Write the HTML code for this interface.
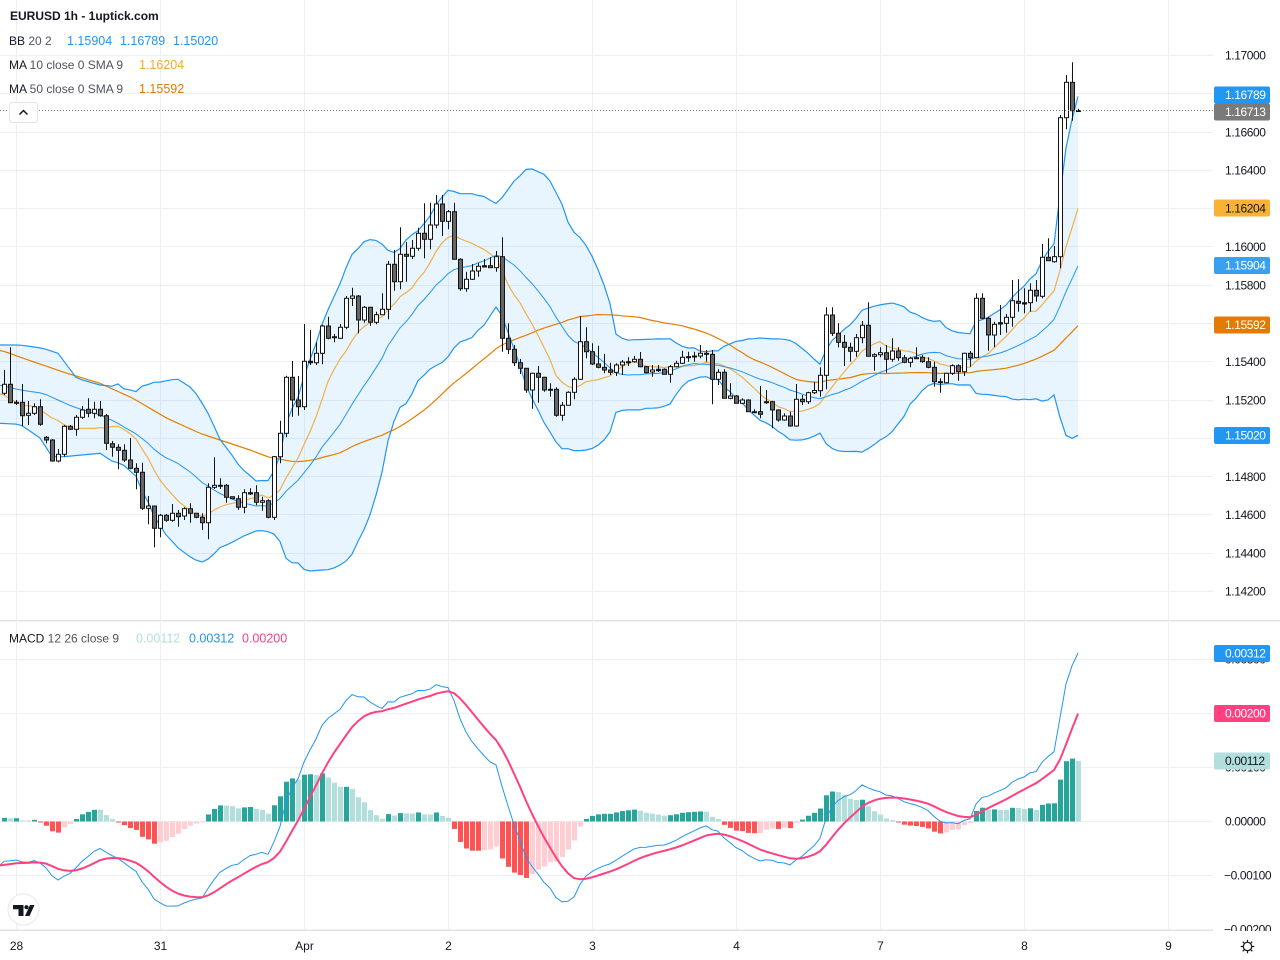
<!DOCTYPE html>
<html><head><meta charset="utf-8">
<style>
html,body{margin:0;padding:0;background:#fff;width:1280px;height:960px;overflow:hidden;}
svg{display:block;font-family:"Liberation Sans",sans-serif;}
</style></head><body>
<svg id="c" width="1280" height="960" viewBox="0 0 1280 960" xmlns="http://www.w3.org/2000/svg">
<defs>
<clipPath id="cm"><rect x="0" y="0" width="1213" height="620"/></clipPath>
<clipPath id="cd"><rect x="0" y="622" width="1213" height="308"/></clipPath>
<clipPath id="ca"><rect x="1213" y="622" width="67" height="309"/></clipPath>
</defs>
<rect width="1280" height="960" fill="#fff"/>
<g stroke="#eceff4" stroke-width="1">
<path d="M0 55.5H1213M0 93.5H1213M0 132.5H1213M0 170.5H1213M0 208.5H1213M0 246.5H1213M0 285.5H1213M0 323.5H1213M0 361.5H1213M0 400.5H1213M0 438.5H1213M0 476.5H1213M0 514.5H1213M0 553.5H1213M0 591.5H1213"/>
<path d="M0 659.5H1213M0 713.5H1213M0 767.5H1213M0 821.5H1213M0 875.5H1213M0 929.5H1213"/>
<path d="M16.5 0V620M160.5 0V620M304.5 0V620M448.5 0V620M592.5 0V620M736.5 0V620M880.5 0V620M1024.5 0V620M1168.5 0V620"/>
<path d="M16.5 622V930M160.5 622V930M304.5 622V930M448.5 622V930M592.5 622V930M736.5 622V930M880.5 622V930M1024.5 622V930M1168.5 622V930"/>
</g>
<rect x="0" y="620" width="1280" height="1.5" fill="#e0e3eb"/>
<rect x="0" y="930" width="1213" height="1" fill="#e0e3eb"/>
<g id="main" clip-path="url(#cm)"></g>
<g id="macd" clip-path="url(#cd)"></g>
<line x1="0" y1="110.5" x2="1213" y2="110.5" stroke="#7a7a7a" stroke-width="1" stroke-dasharray="1 2"/>

<text x="10" y="20" font-size="12" font-weight="bold" fill="#131722">EURUSD 1h - 1uptick.com</text>
<text x="9" y="45" font-size="12"><tspan fill="#131722">BB</tspan><tspan fill="#50535e"> 20 2</tspan></text>
<text x="67" y="45" font-size="12.5" fill="#2196f3">1.15904</text>
<text x="120" y="45" font-size="12.5" fill="#2196f3">1.16789</text>
<text x="173" y="45" font-size="12.5" fill="#2196f3">1.15020</text>
<text x="9" y="69" font-size="12"><tspan fill="#131722">MA</tspan><tspan fill="#50535e"> 10 close 0 SMA 9</tspan></text>
<text x="139" y="69" font-size="12.5" fill="#f0a92e">1.16204</text>
<text x="9" y="93" font-size="12"><tspan fill="#131722">MA</tspan><tspan fill="#50535e"> 50 close 0 SMA 9</tspan></text>
<text x="139" y="93" font-size="12.5" fill="#e07800">1.15592</text>
<rect x="9.5" y="102.5" width="28" height="20" rx="3" fill="#fff" stroke="#e0e3eb"/>
<path d="M19.5 114.5L23.5 110.5L27.5 114.5" stroke="#131722" stroke-width="1.5" fill="none"/>
<text x="9" y="642.5" font-size="12"><tspan fill="#131722">MACD</tspan><tspan fill="#50535e"> 12 26 close 9</tspan></text>
<text x="136" y="642.5" font-size="12.5" fill="#b2dfdb">0.00112</text>
<text x="189" y="642.5" font-size="12.5" fill="#2196f3">0.00312</text>
<text x="242" y="642.5" font-size="12.5" fill="#ff4081">0.00200</text>

<g font-size="12" fill="#131722" letter-spacing="-0.4">
<text x="1225" y="59.5">1.17000</text>
<text x="1225" y="136.5">1.16600</text>
<text x="1225" y="174.5">1.16400</text>
<text x="1225" y="251">1.16000</text>
<text x="1225" y="289.5">1.15800</text>
<text x="1225" y="366">1.15400</text>
<text x="1225" y="404.5">1.15200</text>
<text x="1225" y="481">1.14800</text>
<text x="1225" y="519">1.14600</text>
<text x="1225" y="557.5">1.14400</text>
<text x="1225" y="595.5">1.14200</text>
</g>
<g font-size="12" letter-spacing="-0.4">
<rect x="1214" y="86.5" width="56" height="17" rx="2" fill="#2196f3"/>
<text x="1225" y="99" fill="#fff">1.16789</text>
<rect x="1214" y="103.5" width="56" height="17" rx="2" fill="#7a7a7a"/>
<text x="1225" y="116" fill="#fff">1.16713</text>
<rect x="1214" y="199.5" width="56" height="17" rx="2" fill="#f9b233"/>
<text x="1225" y="212.5" fill="#131722">1.16204</text>
<rect x="1214" y="257" width="56" height="17" rx="2" fill="#3aa0ee"/>
<text x="1225" y="269.5" fill="#fff">1.15904</text>
<rect x="1214" y="316.5" width="56" height="17" rx="2" fill="#e47b00"/>
<text x="1225" y="329" fill="#fff">1.15592</text>
<rect x="1214" y="427" width="56" height="17" rx="2" fill="#2196f3"/>
<text x="1225" y="439.5" fill="#fff">1.15020</text>
</g>
<g font-size="12" fill="#131722" letter-spacing="-0.4" clip-path="url(#ca)">
<text x="1225" y="663.5">0.00300</text>
<text x="1225" y="771.5">0.00100</text>
<text x="1225" y="825.5">0.00000</text>
<text x="1224" y="879.5">−0.00100</text>
<text x="1224" y="933.5">−0.00200</text>
<rect x="1214" y="645" width="56" height="17" rx="2" fill="#2196f3"/>
<text x="1225" y="657.5" fill="#fff">0.00312</text>
<rect x="1214" y="705" width="56" height="17" rx="2" fill="#ff4081"/>
<text x="1225" y="717.5" fill="#fff">0.00200</text>
<rect x="1214" y="752.5" width="56" height="17" rx="2" fill="#b2dfdb"/>
<text x="1225" y="765" fill="#131722">0.00112</text>
</g>
<g font-size="12" fill="#131722" text-anchor="middle">
<text x="16.5" y="950">28</text>
<text x="160.5" y="950">31</text>
<text x="304.5" y="950">Apr</text>
<text x="448.5" y="950">2</text>
<text x="592.5" y="950">3</text>
<text x="736.5" y="950">4</text>
<text x="880.5" y="950">7</text>
<text x="1024.5" y="950">8</text>
<text x="1168.5" y="950">9</text>
</g>
<g transform="translate(1247.5,946.5)" stroke="#131722" stroke-width="1.2" fill="none">
<circle r="4.2"/>
<path d="M0 -4.2V-6.8M0 4.2V6.8M-4.2 0H-6.8M4.2 0H6.8M3 3L4.8 4.8M-3 -3L-4.8 -4.8M3 -3L4.8 -4.8M-3 3L-4.8 4.8"/>
</g>
<circle cx="23.5" cy="909.5" r="15.5" fill="#fff" stroke="#e6e8ec" stroke-width="1"/>
<path d="M13 905H23.5V916H18.5V909.3H13Z" fill="#131722"/>
<circle cx="26.5" cy="907.2" r="2.1" fill="#131722"/>
<path d="M30 905H34.5L29.5 916H25Z" fill="#131722"/>
</svg>
<script>
var D=[[393.3,370,395,384.3],[384.3,347.3,403.3,402.7],[402.3,400,405,402.5],[402.3,384,426,415.7],[415.3,401,425,413.3],[413.3,403.3,415,406.7],[406.7,399.3,425.7,424.3],[437.3,436,443.3,440],[440,439,461.7,461],[461,449,462.3,454.3],
[454.3,425,456.7,426.3],[426.3,425,430,429.3],[429.3,415,435.7,417.3],[417.3,406,418.7,410],[409.3,398.3,417.3,413.3],[413.3,401.7,418.3,409.3],[409.3,401,416.7,415.7],[415.7,414,450,443.3],[443.7,441,456.7,447.3],[447.3,444.3,469.3,450.3],
[450.3,444.3,462,460],[460,438,469.3,468.3],[468.3,463.3,489.3,472.3],[472.3,462.7,510,508.3],[508.3,496,524.3,506],[506,506,547.3,528.3],[528.3,514,537.3,515.3],[515.3,514,521.7,520.3],[520.3,504,521.7,513.3],[513.3,510,526.7,516.7],
[516,507.3,520,508.7],[508.7,503.3,522.7,513.3],[513.3,512.7,518.3,517.3],[517.3,513.3,530,522.7],[522.7,483.3,539.3,487.3],[487.3,457.3,489,485.3],[485.3,478.3,489,485.5],[485.3,484,502.7,497.3],[496.7,496.7,499.3,498.7],[498.7,495.3,510,507.3],
[507.3,489.3,513.3,492.7],[494,488.3,495,492.7],[492.7,485.3,505.3,502.3],[502.3,496.7,510.7,500.7],[500.7,499.3,518.3,517.3],[517.3,456,520,456.7],[456.7,420.7,463.3,433.3],[433.3,375.7,437.3,377.3],[377.3,361,416.7,400],[400,376,415.7,406.7],
[406.7,324,410,361.3],[361.3,330,365,362.7],[362.7,342.3,365,353.3],[353.3,324.7,364.3,326],[326,316.7,339.3,338.3],[336.7,334,342.3,336.7],[338.3,324,339,327.3],[327.3,296,329.3,298.3],[298.3,287.7,306,296],[296,295,333.3,320],
[320,306,322.7,307.3],[307.3,306.7,325.7,322.3],[322.3,311.7,324.3,314.7],[314.7,293.3,314.7,309.3],[309.3,261,319.3,264.3],[264.3,250,290.7,281.7],[281.7,227.3,289.3,254.3],[254.3,242,281.7,256.3],[256.3,240,259,248.3],[248.3,227.7,250.7,233.3],
[233.3,203.3,258.3,239.3],[239.3,202.7,249.3,225],[225,195,228.3,204],[204,195,236,221.3],[221.3,210,229.3,211.7],[211.7,202.7,259.3,259.3],[259.3,258.3,290.7,288.7],[288.7,271.7,291.7,279.3],[279.3,264,280,271],[271,263.3,276.7,266.3],
[265.7,259,267,267],[265.7,257.3,267.7,267.7],[267.7,251,271.7,256.7],[256.7,237.3,351.7,338.3],[338.3,323.3,354,349.3],[349.3,345,366,362.7],[362.7,359,374,368.3],[368.3,368.3,392.7,390],[390,372.7,408.7,373.3],[373.3,366,402.7,377.3],
[377.3,376.7,391.7,390],[389.3,383.3,396.7,390.3],[389.3,387.3,416.7,415.3],[415.3,402,420.7,405.3],[405.3,391.3,405.3,392.3],[392.3,377.3,399.3,379.3],[379.3,316,380,341.7],[341.7,327.3,358.3,351.7],[351.7,343.3,365,364],[364,345.7,368.3,367.3],
[367.3,354,373.3,370],[370,362.7,375,372.3],[372.3,363.3,376,365],[365,360,375,362],[361.7,357.3,366,361.7],[361.7,356,362.7,359.3],[359.3,352,367.3,366.7],[366.7,366,373.3,372.7],[372,365,376.7,370],[369.3,365,372,370.7],
[369.3,368.3,374.3,374.3],[374.3,365,382.7,366.7],[366.7,360.7,367.3,363.3],[363.3,350.7,364,357.3],[356.7,351.7,361.7,357.7],[356,351.7,361.7,356],[356,345,358.3,353.3],[353.3,350,361.7,354.3],[354.3,350,404.3,379.3],[379.3,369.3,385,372.3],
[372.3,369.3,398.3,398.3],[398.3,383.3,399.3,396],[396,395,403.3,403.3],[403.3,398.3,404,400],[400,399.3,411.7,411.7],[411.7,409.3,412.7,411.7],[411.7,386,418.3,414.3],[401.7,390,404,401.7],[401.7,400.7,428.3,410],[410,409.3,421.7,420],
[420,413.3,420.7,416],[416,411.7,426.7,426],[426,384,426.7,399.3],[399.3,395,405,401.7],[401.7,391.7,404,392.7],[392.7,381.7,394,390.5],[390.7,367.3,396.7,375.3],[375.3,307.3,389.3,315],[315,307.3,336,333.3],[333.3,323.3,347.3,342.3],
[342.3,335,366,347.3],[347.3,342.7,361.7,351.3],[351.3,334,356.7,337.7],[337.7,321,343.3,325.3],[325.3,302.3,356.3,356.3],[356.3,353.3,370.7,354.7],[354.7,347.3,357.3,352.7],[352.7,345,372.7,359.3],[359.3,338.3,361.7,351],[351,347.3,360.7,357.7],
[357.7,355,363.3,362.3],[362.3,356.7,367.3,358.3],[357.7,347.3,358.7,357.7],[357.3,355,362.7,361.7],[361.7,357.3,368.3,367.3],[367.3,361.7,386.7,381.7],[381.7,378.3,392.7,381.7],[382.7,372.7,383.3,373.3],[373.3,364.3,375,365.7],[365.7,364.3,380.7,371.7],
[371.7,352.7,376,353.3],[353.3,351,366.7,357.7],[357.7,293.3,358.3,298.3],[298.3,293.3,319.3,318.3],[318.3,316.7,350.7,335],[335,321.7,347.3,324.3],[324,305,335,322.7],[323.3,314,332.7,317.3],[317.3,280,326.7,300.7],[301.3,279.3,311.7,303.3],
[302.7,288.3,313.3,304],[302.7,283.3,311.7,290.3],[290.3,280,301.7,296],[296.3,244,298.3,257.3],[257.3,238.3,260.7,260.7],[261.7,246,262.7,256.7],[256.7,115,268.3,117.7],[117.7,75,129.3,82.3],[82.3,62.3,120.7,110.7],[110.7,108.7,111.7,110.5]];
(function(){
var NS="http://www.w3.org/2000/svg";
var N=D.length;
function X(i){return 4+6*i;}
function f(v){return Math.round(v*10)/10;}
function interp(p,x){if(x<=p[0][0])return p[0][1];for(var j=1;j<p.length;j++){if(x<=p[j][0]){var a=p[j-1],b=p[j];return a[1]+(b[1]-a[1])*(x-a[0])/(b[0]-a[0]);}}return p[p.length-1][1];}
function el(parent,tag,attrs){var e=document.createElementNS(NS,tag);for(var k in attrs)e.setAttribute(k,attrs[k]);parent.appendChild(e);return e;}
var C=D.map(function(d){return d[3];});
var upT=[[0,345],[20,345],[43,348.3],[58,353.3],[76.7,378.3],[100,385],[116.7,386.7]];
var midT=[[0,385],[20,390],[43,393.3],[73,406.7],[100,415],[118,423]];
var loT=[[0,423.3],[20,424.3],[43,440],[50,456.7],[63.3,456.7],[100,453.3],[118,465]];
var m10T=[[0,393.3],[7,396.7],[20,405],[33,406],[43,411.7],[52,418]];
var m50T=[[0,350],[33,361.7],[67,373.3],[100,383.3],[133,398.3],[167,418.3],[200,433.3],[220,440],[250,450],[270,457.5],[292,461.3]];
var xs=[],up=[],mid=[],lo=[],a10=[],a50=[];
for(var i=-1;i<N;i++){
 var x=X(i);xs.push(x);
 if(i>=19){var s=0,k;for(k=i-19;k<=i;k++)s+=C[k];var mm=s/20,v=0;for(k=i-19;k<=i;k++)v+=(C[k]-mm)*(C[k]-mm);var sd=Math.sqrt(v/20);mid.push(mm);up.push(mm-2*sd);lo.push(mm+2*sd);}
 else{up.push(interp(upT,x));mid.push(interp(midT,x));lo.push(interp(loT,x));}
 if(i>=9){var s2=0;for(var k2=i-9;k2<=i;k2++)s2+=C[k2];a10.push(s2/10);}else a10.push(interp(m10T,x));
 if(i>=49){var s3=0;for(var k3=i-49;k3<=i;k3++)s3+=C[k3];a50.push(s3/50);}else a50.push(interp(m50T,x));
}
function pth(arr){var o='';for(var j=0;j<arr.length;j++){o+=(j?'L':'M')+f(xs[j])+' '+f(arr[j]);}return o;}
var G=document.getElementById('main');
var fill=pth(up);for(var j=lo.length-1;j>=0;j--)fill+='L'+f(xs[j])+' '+f(lo[j]);fill+='Z';
el(G,'path',{d:fill,fill:'rgba(33,150,243,0.1)'});
el(G,'path',{d:pth(a50),stroke:'#e67e00','stroke-width':'1.2',fill:'none'});
el(G,'path',{d:pth(a10),stroke:'#f2b04a','stroke-width':'1.2',fill:'none'});
el(G,'path',{d:pth(mid),stroke:'#2196f3','stroke-width':'1',fill:'none'});
el(G,'path',{d:pth(up),stroke:'#2196f3','stroke-width':'1.2',fill:'none'});
el(G,'path',{d:pth(lo),stroke:'#2196f3','stroke-width':'1.2',fill:'none'});
for(i=0;i<N;i++){
 var d=D[i],o=d[0],c=d[3],h=Math.min(d[1],o,c),l=Math.max(d[2],o,c),cx=X(i)+0.5;
 el(G,'line',{x1:cx,y1:f(h),x2:cx,y2:f(l),stroke:'#131313','stroke-width':'1'});
 var top=Math.min(o,c),bh=Math.abs(o-c);
 if(bh<1.5){el(G,'rect',{x:cx-2.5,y:f(top-0.5),width:5,height:f(Math.max(bh,1)+1),fill:'#131313'});}
 else{el(G,'rect',{x:cx-2,y:f(top),width:4,height:f(bh),fill:(c<o?'#ffffff':'#666666'),stroke:'#131313','stroke-width':'1'});}
}
var M=document.getElementById('macd');
var R=2.822,B=821.5;
var e12=393,e26=377,sg=15.7;
var mp='M-2 '+f(B+16*R),sp='M-2 '+f(B+15.7*R),prev=-0.3;
for(i=0;i<N;i++){
 e12+=(C[i]-e12)*2/13;e26+=(C[i]-e26)*2/27;var m=e12-e26;sg+=(m-sg)*0.2;
 mp+='L'+X(i)+' '+f(B+m*R);sp+='L'+X(i)+' '+f(B+sg*R);
 var hv=-(m-sg),col;
 if(hv>=0)col=(prev<hv)?'#26a69a':'#b2dfdb';else col=(prev<hv)?'#ffcdd2':'#ff5252';
 prev=hv;
 var hp=Math.abs(hv*R);if(hp<1)hp=1;
 var yy=hv>=0?B-hp:B;
 el(M,'rect',{x:X(i)-2,y:f(yy),width:5,height:f(hp),fill:col});
}
el(M,'path',{d:mp,stroke:'#2196f3','stroke-width':'1',fill:'none'});
el(M,'path',{d:sp,stroke:'#ff4081','stroke-width':'2',fill:'none'});
})();
</script>
</body></html>
